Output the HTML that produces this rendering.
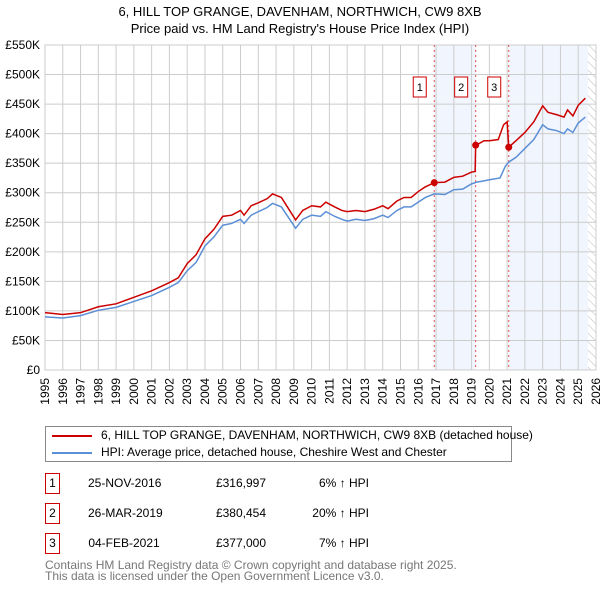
<!DOCTYPE html>
<html><head><meta charset="utf-8"><style>
body{margin:0;background:#fff;font-family:"Liberation Sans","DejaVu Sans",sans-serif;}
#wrap{position:relative;width:600px;height:590px;overflow:hidden}
.t{position:absolute;font-size:12px;color:#000;white-space:nowrap}
.box{position:absolute;width:15px;height:21px;border:1px solid #c00;font-size:12px;text-align:center;line-height:19px;box-sizing:border-box}
</style></head><body><div id="wrap">
<svg id="svg" width="600" height="420" style="position:absolute;left:0;top:0">
<defs><pattern id="hatch" width="6" height="6" patternUnits="userSpaceOnUse" patternTransform="rotate(-45)"><line x1="0" y1="0" x2="0" y2="6" stroke="#bbb" stroke-width="1"/></pattern></defs>
<text x="300" y="16" text-anchor="middle" font-size="13">6, HILL TOP GRANGE, DAVENHAM, NORTHWICH, CW9 8XB</text>
<text x="300" y="33" text-anchor="middle" font-size="13">Price paid vs. HM Land Registry's House Price Index (HPI)</text>
<g id="g"></g>
</svg>
<div style="position:absolute;left:45px;top:426px;width:467px;height:36px;border:1px solid #888;box-sizing:border-box">
<div style="position:absolute;left:6px;top:8px;width:40px;height:2px;background:#c00"></div>
<div class="t" style="left:55px;top:1px">6, HILL TOP GRANGE, DAVENHAM, NORTHWICH, CW9 8XB (detached house)</div>
<div style="position:absolute;left:6px;top:25px;width:40px;height:2px;background:#5b8fd6"></div>
<div class="t" style="left:55px;top:18px">HPI: Average price, detached house, Cheshire West and Chester</div>
</div>
<div id="rows"></div>
<div class="t" style="left:45px;top:560px;color:#777;line-height:11px">Contains HM Land Registry data © Crown copyright and database right 2025.<br>This data is licensed under the Open Government Licence v3.0.</div>
</div>
<script>
const hpiDates=[1995,1996,1997,1998,1999,2000,2001,2002,2002.5,2003,2003.5,2004,2004.5,2005,2005.5,2006,2006.2,2006.6,2007,2007.5,2007.8,2008.3,2008.7,2009.1,2009.5,2010,2010.5,2010.8,2011.3,2011.7,2012,2012.5,2013,2013.5,2014,2014.3,2014.8,2015.2,2015.6,2016,2016.4,2016.9,2017.5,2018,2018.5,2019,2019.3,2019.7,2020,2020.6,2020.9,2021.1,2021.5,2022,2022.5,2023,2023.3,2023.8,2024.2,2024.4,2024.7,2025,2025.4];
const hpiValues=[90,88,92,101,106,116,126,140,148,168,182,210,225,245,248,255,248,262,268,275,282,276,258,240,255,262,260,268,260,255,252,255,253,256,262,258,270,276,276,284,292,298,297,305,306,315,318,320,322,325,345,352,360,375,390,415,408,405,400,408,402,418,428];
const priceDates=[1995,1996,1997,1998,1999,2000,2001,2002,2002.5,2003,2003.5,2004,2004.5,2005,2005.5,2006,2006.2,2006.6,2007,2007.5,2007.8,2008.3,2008.7,2009.1,2009.5,2010,2010.5,2010.8,2011.3,2011.7,2012,2012.5,2013,2013.5,2014,2014.3,2014.8,2015.2,2015.6,2016,2016.4,2016.9,2017.5,2018,2018.5,2019,2019.2,2019.23,2019.7,2020,2020.5,2020.8,2021.0,2021.09,2021.5,2022,2022.5,2023,2023.3,2023.8,2024.2,2024.4,2024.7,2025,2025.4];
const priceValues=[97,94,97,107,112,123,134,148,156,180,195,222,238,260,262,270,262,278,283,290,298,292,273,254,270,278,276,284,276,270,268,270,268,272,278,273,286,292,292,302,310,317,318,326,328,335,336,380,388,388,390,415,420,377,388,402,420,447,436,432,428,440,430,448,460];
const saleDates=[2016.9,2019.23,2021.09];
const saleValues=[317,380.454,377];
const saleLabels=["1","2","3"];
const saleDateText=["25-NOV-2016","26-MAR-2019","04-FEB-2021"];
const salePriceText=["£316,997","£380,454","£377,000"];
const saleHpiText=["6% ↑ HPI","20% ↑ HPI","7% ↑ HPI"];
const yTicks=[0,50,100,150,200,250,300,350,400,450,500,550];
const xYears=[];for(let y=1995;y<=2026;y++)xYears.push(y);
const X0=45,X1=596,Y0=370,Y1=45;
const xs=d=>X0+(d-1995)/(2026-1995)*(X1-X0);
const ys=v=>Y0-v/550*(Y0-Y1);
const NS="http://www.w3.org/2000/svg";const g=document.getElementById('g');
function el(t,a,p){const e=document.createElementNS(NS,t);for(const k in a)e.setAttribute(k,a[k]);(p||g).appendChild(e);return e;}
let r=el('rect',{x:xs(saleDates[0]),y:Y1,width:xs(saleDates[1])-xs(saleDates[0]),height:Y0-Y1,fill:'#eef3fc',opacity:0.8});

r=el('rect',{x:xs(saleDates[2]),y:Y1,width:xs(2025.55)-xs(saleDates[2]),height:Y0-Y1,fill:'#eef3fc',opacity:0.8});

r=el('rect',{x:xs(2025.55),y:Y1,width:X1-xs(2025.55),height:Y0-Y1,fill:'url(#hatch)'});

yTicks.forEach(v=>{const l=el('line',{x1:X0,x2:X1,y1:ys(v),y2:ys(v),stroke:'#ccc'});
const t=el('text',{x:X0-5,y:ys(v)+4,'text-anchor':'end','font-size':12});t.textContent=v===0?'£0':'£'+v+'K';});
xYears.forEach(y=>{const l=el('line',{x1:xs(y),x2:xs(y),y1:Y1,y2:Y0,stroke:'#ccc'});
const t=el('text',{x:xs(y),y:Y0+8,dy:4,'text-anchor':'end','font-size':12,transform:`rotate(-90 ${xs(y)} ${Y0+8})`});t.textContent=y;});
const ax=el('rect',{x:X0,y:Y1,width:X1-X0,height:Y0-Y1,fill:'none',stroke:'#ccc'});
saleDates.forEach((d,i)=>{const l=el('line',{x1:xs(d),x2:xs(d),y1:Y1,y2:Y0,stroke:'#e05050','stroke-dasharray':'2,3'});
const b=el('rect',{x:xs(d)-21,y:77,width:13,height:20,fill:'#fff',stroke:'#c00'});
const t=el('text',{x:xs(d)-14.5,y:91,'text-anchor':'middle','font-size':11});t.textContent=saleLabels[i];});
const hp=el('polyline',{points:hpiDates.map((d,i)=>xs(d)+','+ys(hpiValues[i])).join(' '),fill:'none',stroke:'#5b8fd6','stroke-width':1.5});
const pp=el('polyline',{points:priceDates.map((d,i)=>xs(d)+','+ys(priceValues[i])).join(' '),fill:'none',stroke:'#c00','stroke-width':1.5});
saleDates.forEach((d,i)=>{const c=el('circle',{cx:xs(d),cy:ys(saleValues[i]),r:3.5,fill:'#c00'});});
const rows=document.getElementById('rows');
saleDates.forEach((d,i)=>{const top=473+i*30;const div=document.createElement('div');div.style.cssText=`position:absolute;left:0;top:${top}px;width:600px;height:21px`;

div.innerHTML=`<div class="box" style="left:45px;top:0">${saleLabels[i]}</div><div class="t" style="left:88px;top:3px;width:72px;text-align:center">${saleDateText[i]}</div><div class="t" style="left:200px;top:3px;width:66px;text-align:right">${salePriceText[i]}</div><div class="t" style="left:300px;top:3px;width:69px;text-align:right">${saleHpiText[i]}</div>`;
rows.appendChild(div);});
</script></body></html>
